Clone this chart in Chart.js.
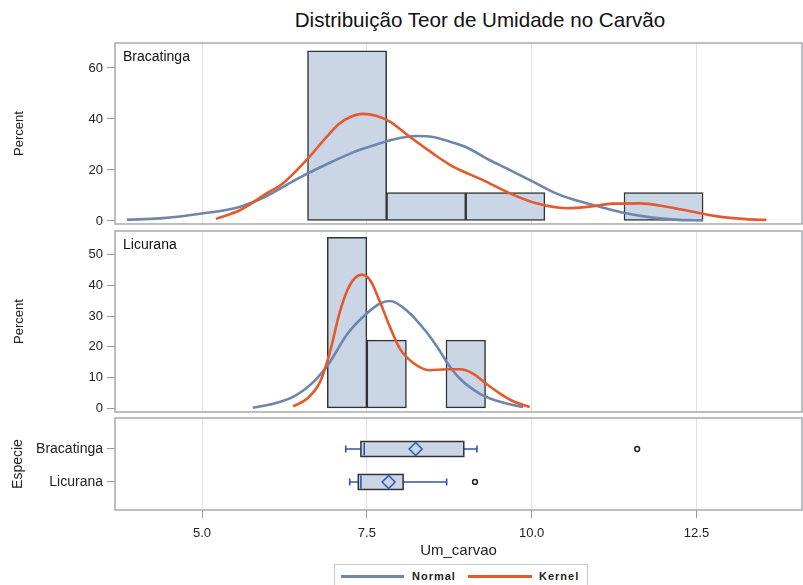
<!DOCTYPE html>
<html><head><meta charset="utf-8">
<script src="https://cdn.jsdelivr.net/npm/chart.js@4.4.0/dist/chart.umd.min.js"></script>
<style>
html,body{margin:0;padding:0;background:#fff;width:803px;height:585px;overflow:hidden;font-family:"Liberation Sans",Arial,sans-serif;}
canvas{position:absolute;left:0;}
#title{position:absolute;left:230px;width:500px;top:8px;line-height:24px;font-size:20.6px;color:#111;text-align:center;white-space:nowrap;}
#legend{position:absolute;left:334px;top:564px;width:254px;height:30px;border:1px solid #c8c8c8;box-sizing:border-box;background:#fff;}
#legend .ln{position:absolute;top:10px;height:3px;}
#legend .tx{position:absolute;top:4px;font-size:11px;font-weight:bold;letter-spacing:1px;color:#222;line-height:14px;}
</style></head>
<body>
<div id="title">Distribuição Teor de Umidade no Carvão</div>
<canvas id="c1" width="803" height="186" style="top:40px"></canvas>
<canvas id="c2" width="803" height="186" style="top:228px"></canvas>
<canvas id="c3" width="803" height="150" style="top:415px"></canvas>
<div id="legend">
  <div class="ln" style="left:6px;width:63px;background:#6e86ac"></div>
  <div class="tx" style="left:77px">Normal</div>
  <div class="ln" style="left:133px;width:64px;background:#e45a2d"></div>
  <div class="tx" style="left:204px">Kernel</div>
</div>
<script>
// ---------- data ----------
const xTicks = [5.0, 7.5, 10.0, 12.5];
const xMin = 3.68, xMax = 14.1;

const bracBinCenters = [7.2, 8.4, 9.6, 10.8, 12.0];
const bracPercent = [66.7, 11.1, 11.1, 0, 11.1];
const bracYTicks = [0, 20, 40, 60];

const licuBinCenters = [7.2, 7.8, 8.4, 9.0];
const licuPercent = [55.6, 22.2, 0, 22.2];
const licuYTicks = [0, 10, 20, 30, 40, 50];

const bracNormalX = [3.86, 4.36, 5.0, 5.58, 5.95, 6.48, 6.98, 7.3, 7.62, 8.0, 8.25, 8.5, 8.76, 9.0, 9.36, 9.62, 10.02, 10.37, 10.62, 11.03, 11.43, 11.83, 12.24, 12.6];
const bracNormalY = [0.5, 1.0, 2.9, 5.6, 9.4, 17.0, 23.3, 27.0, 29.8, 32.5, 33.3, 32.9, 31.1, 29.0, 23.9, 20.6, 15.4, 10.8, 8.5, 5.6, 3.0, 1.3, 0.4, 0.2];
const bracKernelX = [5.21, 5.58, 5.98, 6.23, 6.61, 6.89, 7.09, 7.25, 7.44, 7.65, 7.85, 8.15, 8.5, 8.76, 8.91, 9.26, 9.67, 10.07, 10.53, 10.88, 11.23, 11.64, 12.04, 12.5, 12.9, 13.25, 13.56];
const bracKernelY = [0.8, 4.3, 10.8, 14.8, 24.6, 33.0, 38.3, 40.8, 42.0, 41.2, 39.0, 33.0, 26.5, 22.0, 20.0, 16.0, 10.8, 6.9, 5.0, 5.6, 6.8, 6.9, 5.6, 3.3, 1.5, 0.7, 0.4];

const licuNormalX = [5.77, 6.08, 6.38, 6.69, 6.94, 7.19, 7.44, 7.7, 7.85, 8.1, 8.4, 8.6, 8.71, 8.91, 9.21, 9.52, 9.87];
const licuNormalY = [0.2, 1.5, 3.7, 8.6, 15.1, 23.8, 29.7, 34.1, 34.9, 31.9, 24.9, 18.9, 15.1, 9.7, 4.8, 2.1, 0.4];
const licuKernelX = [6.38, 6.59, 6.79, 6.94, 7.09, 7.24, 7.42, 7.55, 7.7, 7.85, 8.0, 8.2, 8.45, 8.71, 8.91, 9.11, 9.31, 9.52, 9.72, 9.97];
const licuKernelY = [0.6, 3.1, 8.6, 18.3, 31.4, 40.0, 43.5, 41.7, 34.6, 26.5, 19.4, 14.8, 12.4, 12.7, 12.7, 11.3, 8.0, 4.8, 2.3, 0.4];

const boxSpecies = ['Bracatinga', 'Licurana'];
const boxWhiskerLow = [7.18, 7.24];
const boxQ1 = [7.41, 7.37];
const boxMedian = [7.46, 7.41];
const boxMean = [8.24, 7.83];
const boxQ3 = [8.97, 8.05];
const boxWhiskerHigh = [9.17, 8.71];
const outlierValues = [11.6, 9.14];
const outlierSpecies = [0, 1];

// ---------- styling ----------
const FONT = '"Liberation Sans", Arial, sans-serif';
Chart.defaults.font.family = FONT;
Chart.defaults.color = '#333';
Chart.defaults.animation = false;
const BAR_FILL = '#cad5e5', BAR_LINE = '#333333';
const NORMAL_C = '#6e86ac', KERNEL_C = '#e45a2d';
const GRID_C = '#e3e3e3', TICK_C = '#9a9a9a', FRAME_C = '#a6aaae';
const BOX_BLUE = '#2f55b0';

const pts = (xs, ys) => xs.map((x, i) => ({x, y: ys[i]}));
const setTicks = vals => s => { s.ticks = vals.map(v => ({value: v})); };
const noPad = s => { s.paddingTop = 0; s.paddingBottom = 0; s.paddingLeft = 0; s.paddingRight = 0; };

const panelPlugin = {
  id: 'panel',
  afterDraw(chart, args, opts) {
    const {ctx, chartArea: a} = chart;
    ctx.save();
    ctx.strokeStyle = FRAME_C; ctx.lineWidth = 1.5;
    ctx.strokeRect(a.left, a.top, a.right - a.left, a.bottom - a.top);
    if (opts.label) {
      ctx.fillStyle = '#111'; ctx.font = '14px ' + FONT; ctx.textBaseline = 'top';
      ctx.fillText(opts.label, a.left + 8, a.top + 7);
    }
    ctx.restore();
  }
};

function histChart(id, label, centers, percent, yTicks, yMin, yMax, nx, ny, kx, ky) {
  return new Chart(document.getElementById(id), {
    type: 'bar',
    data: {
      datasets: [
        {type: 'line', label: 'Kernel', data: pts(kx, ky), borderColor: KERNEL_C, borderWidth: 2.6,
         pointRadius: 0, cubicInterpolationMode: 'monotone', order: 0},
        {type: 'line', label: 'Normal', data: pts(nx, ny), borderColor: NORMAL_C, borderWidth: 2.6,
         pointRadius: 0, cubicInterpolationMode: 'monotone', order: 1},
        {type: 'bar', label: 'Hist', data: centers.map((c, i) => ({x: c, y: percent[i] || null})),
         backgroundColor: BAR_FILL, borderColor: BAR_LINE, borderWidth: 1.5, borderSkipped: false,
         barPercentage: 1, categoryPercentage: 1, order: 2}
      ]
    },
    options: {
      responsive: false,
      layout: {autoPadding: false, padding: {left: 0, right: 1, top: 3, bottom: 2}},
      plugins: {legend: {display: false}, tooltip: {enabled: false}, panel: {label}},
      scales: {
        x: {type: 'linear', min: xMin, max: xMax, offset: false,
            afterBuildTicks: setTicks(xTicks),
            ticks: {display: false},
            grid: {color: GRID_C, drawTicks: false, offset: false},
            border: {display: false},
            afterFit: s => { s.height = 0; noPad(s); }},
        y: {type: 'linear', min: yMin, max: yMax,
            afterBuildTicks: setTicks(yTicks),
            ticks: {font: {size: 13}, padding: 4, color: '#222'},
            grid: {drawOnChartArea: false, tickLength: 8, color: TICK_C},
            border: {display: false},
            title: {display: true, text: 'Percent', font: {size: 13}, color: '#222', padding: {top: 12, bottom: 4}},
            afterFit: s => { s.width = 115; noPad(s); }}
      }
    },
    plugins: [panelPlugin]
  });
}

histChart('c1', 'Bracatinga', bracBinCenters, bracPercent, bracYTicks, -1.2, 69.8,
          bracNormalX, bracNormalY, bracKernelX, bracKernelY);
histChart('c2', 'Licurana', licuBinCenters, licuPercent, licuYTicks, -1.2, 57.7,
          licuNormalX, licuNormalY, licuKernelX, licuKernelY);

const boxPlugin = {
  id: 'boxes',
  beforeDatasetsDraw(chart) {
    const {ctx, scales: {x, y}} = chart;
    ctx.save();
    boxSpecies.forEach((s, i) => {
      const yc = y.getPixelForValue(i);
      const h = 7.5, cap = 3.5;
      const pl = x.getPixelForValue(boxWhiskerLow[i]);
      const p1 = x.getPixelForValue(boxQ1[i]);
      const pm = x.getPixelForValue(boxMedian[i]);
      const p3 = x.getPixelForValue(boxQ3[i]);
      const ph = x.getPixelForValue(boxWhiskerHigh[i]);
      ctx.strokeStyle = BOX_BLUE; ctx.lineWidth = 1.6;
      ctx.beginPath();
      ctx.moveTo(pl, yc); ctx.lineTo(p1, yc);
      ctx.moveTo(p3, yc); ctx.lineTo(ph, yc);
      ctx.moveTo(pl, yc - cap); ctx.lineTo(pl, yc + cap);
      ctx.moveTo(ph, yc - cap); ctx.lineTo(ph, yc + cap);
      ctx.stroke();
      ctx.fillStyle = BAR_FILL;
      ctx.fillRect(p1, yc - h, p3 - p1, 2 * h);
      ctx.strokeStyle = '#333'; ctx.lineWidth = 1.5;
      ctx.strokeRect(p1, yc - h, p3 - p1, 2 * h);
      ctx.strokeStyle = BOX_BLUE; ctx.lineWidth = 1.6;
      ctx.beginPath(); ctx.moveTo(pm, yc - h + 1); ctx.lineTo(pm, yc + h - 1); ctx.stroke();
    });
    ctx.restore();
  }
};

new Chart(document.getElementById('c3'), {
  type: 'scatter',
  data: {
    datasets: [
      {label: 'Mean', data: boxMean.map((v, i) => ({x: v, y: i})), pointStyle: 'rectRot', pointRadius: 6.5,
       borderColor: BOX_BLUE, borderWidth: 1.5, backgroundColor: BAR_FILL},
      {label: 'Outliers', data: outlierValues.map((v, i) => ({x: v, y: outlierSpecies[i]})), pointStyle: 'circle',
       pointRadius: 2.4, borderColor: '#222', borderWidth: 1.5, backgroundColor: '#fff'}
    ]
  },
  options: {
    responsive: false,
    layout: {autoPadding: false, padding: {left: 0, right: 1, top: 3, bottom: 3}},
    plugins: {legend: {display: false}, tooltip: {enabled: false}, panel: {}},
    scales: {
      x: {type: 'linear', min: xMin, max: xMax, position: 'bottom',
          afterBuildTicks: setTicks(xTicks),
          ticks: {font: {size: 13}, padding: 8, color: '#222', callback: v => Number(v).toFixed(1), maxRotation: 0},
          grid: {color: GRID_C, tickColor: TICK_C, tickLength: 8},
          border: {display: false},
          title: {display: true, text: 'Um_carvao', font: {size: 15}, color: '#222', padding: {top: 0, bottom: 2}},
          afterFit: s => { s.height = 52; noPad(s); }},
      y: {type: 'linear', min: -0.94, max: 1.85, reverse: true,
          afterBuildTicks: setTicks([0, 1]),
          ticks: {font: {size: 14}, padding: 4, color: '#222', callback: v => boxSpecies[v] ?? ''},
          grid: {drawOnChartArea: false, tickLength: 8, color: TICK_C},
          border: {display: false},
          title: {display: true, text: 'Especie', font: {size: 14}, color: '#222', padding: {top: 10, bottom: 4}},
          afterFit: s => { s.width = 115; noPad(s); }}
    }
  },
  plugins: [boxPlugin, panelPlugin]
});
</script>
</body></html>
